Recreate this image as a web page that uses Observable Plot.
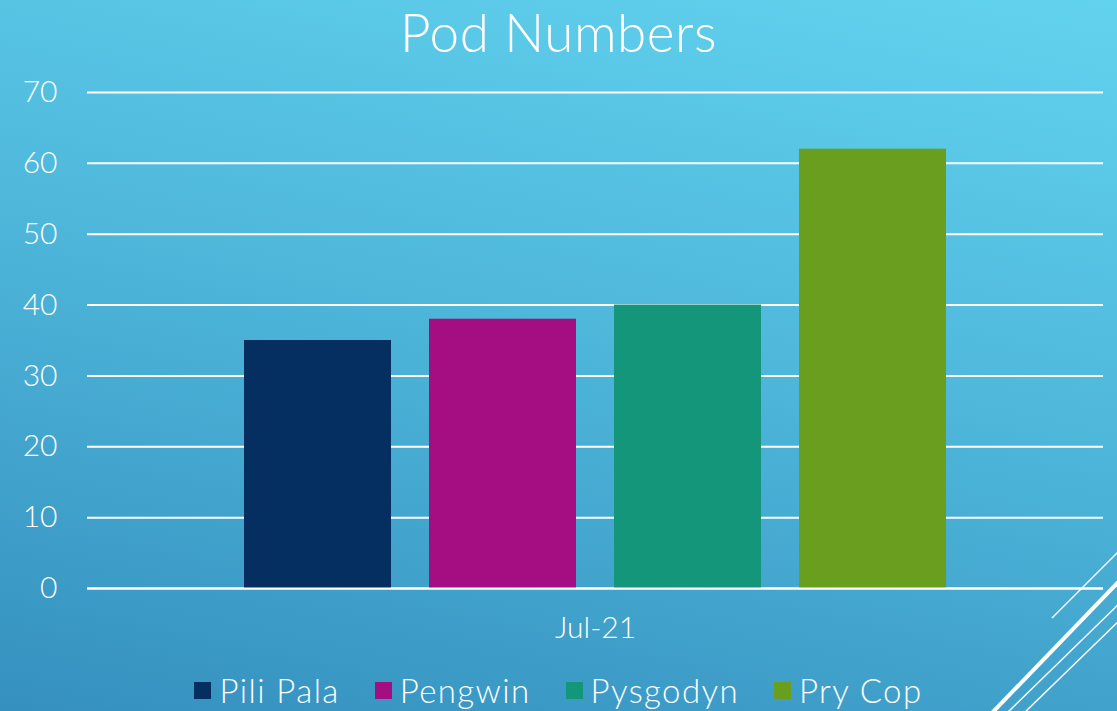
<!DOCTYPE html>
<html>
<head>
<meta charset="utf-8">
<script src="https://cdn.jsdelivr.net/npm/d3@7"></script>
<script src="https://cdn.jsdelivr.net/npm/@observablehq/plot@0.6"></script>
<style>
  html, body { margin: 0; padding: 0; }
  #wrap {
    position: relative; width: 1117px; height: 711px; overflow: hidden;
    background: linear-gradient(192deg, #62d3ef 0%, #4fb8db 45%, #3590bf 100%);
    font-family: Lato, "Open Sans", sans-serif; color: #fff;
  }
  #title {
    position: absolute; left: 0; top: 0; width: 1117px; text-align: center;
    font-size: 53px; line-height: 64px; font-weight: 300; letter-spacing: 0.5px;
  }
  #chart { position: absolute; left: 0; top: 0; }
  #legend {
    position: absolute; left: 0; top: 670px; width: 1117px; height: 40px;
    display: flex; justify-content: center; gap: 35px; font-size: 33px; font-weight: 300;
    letter-spacing: 1.4px; align-items: center;
  }
  #legend .item { display: flex; align-items: center; }
  #legend .sw { width: 17px; height: 17px; margin-right: 8px; }
  #deco { position: absolute; left: 0; top: 0; pointer-events: none; }
  #chart svg text { font-weight: 300; }
</style>
</head>
<body>
<div id="wrap">
  <div id="chart"></div>
  <div id="title">Pod Numbers</div>
  <div id="legend"></div>
  <svg id="deco" width="1117" height="711">
    <g stroke="#fff" fill="none">
      <line x1="1125" y1="545" x2="1052" y2="618" stroke-width="1.5"/>
      <line x1="1125" y1="575" x2="990" y2="715" stroke-width="4"/>
      <line x1="1125" y1="598" x2="1005" y2="715" stroke-width="1.5"/>
      <line x1="1125" y1="615" x2="1022" y2="715" stroke-width="1.5"/>
    </g>
  </svg>
</div>
<script>
const period = "Jul-21";
const series = ["Pili Pala", "Pengwin", "Pysgodyn", "Pry Cop"];
const values = [35, 38, 40, 62];
const colors = ["#052f60", "#a50e82", "#14967b", "#6a9e1f"];
const yTicks = [0, 10, 20, 30, 40, 50, 60, 70];

const data = series.map((s, i) => ({period, series: s, value: values[i]}));

const plot = Plot.plot({
  width: 1117,
  height: 650,
  marginTop: 92,
  marginBottom: 62,
  marginLeft: 87,
  marginRight: 14,
  style: {background: "transparent", color: "#fff", fontFamily: "Lato, 'Open Sans', sans-serif", fontSize: "30px"},
  fx: {domain: [period], padding: 0, label: null, axis: "bottom", tickSize: 0, tickPadding: 28},
  x: {domain: series, paddingInner: 0.205, paddingOuter: 0.84, axis: null},
  y: {domain: [0, 70], ticks: yTicks, label: null, tickSize: 0, tickPadding: 30, grid: false},
  color: {domain: series, range: colors},
  marks: [
    Plot.gridY(yTicks, {stroke: "#fff", strokeOpacity: 1, strokeWidth: 2}),
    Plot.barY(data, {fx: "period", x: "series", y: "value", fill: "series"}),
    Plot.ruleY([0], {stroke: "#fff", strokeWidth: 2})
  ]
});
document.getElementById("chart").appendChild(plot);

const legend = document.getElementById("legend");
series.forEach((s, i) => {
  const it = document.createElement("div");
  it.className = "item";
  it.innerHTML = `<div class="sw" style="background:${colors[i]}"></div><span>${s}</span>`;
  legend.appendChild(it);
});
</script>
</body>
</html>
